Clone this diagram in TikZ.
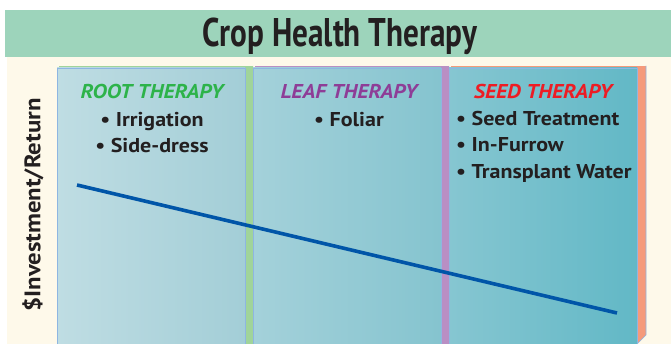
\documentclass[tikz,border=0pt]{standalone}
\usepackage{fontspec}
\setmainfont{PT Sans}
\newfontfamily\titlefont[FakeStretch=0.78]{PT Sans}
\newfontfamily\widefont[FakeStretch=1.1]{PT Sans}
\usetikzlibrary{calc}
\definecolor{cream}{HTML}{FEF9EA}
\definecolor{titlegreen}{HTML}{9DD4BB}
\definecolor{sidegreen}{HTML}{A0D49A}
\definecolor{sidepurple}{HTML}{B98FC4}
\definecolor{sideorange}{HTML}{F59A7B}
\definecolor{edgeblue}{HTML}{8EB6E2}
\definecolor{trendblue}{HTML}{0055A8}
\definecolor{rootgreen}{HTML}{2DB34A}
\definecolor{leafpurple}{HTML}{8E3D97}
\definecolor{seedred}{HTML}{ED1C24}
\definecolor{inkblack}{HTML}{231F20}
\tikzset{
  heading/.style={anchor=base, font=\widefont\fontsize{20}{22}\selectfont\bfseries\itshape, inner sep=0},
  item/.style={anchor=base, font=\widefont\fontsize{20}{22}\selectfont\bfseries, text=inkblack, inner sep=0},
  panelfront/.style={draw=edgeblue, line width=0.6pt},
}
\begin{document}
\begin{tikzpicture}[x=1pt,y=-1pt]
\useasboundingbox (0,0) rectangle (671,344);
% background
\fill[cream] (7,57) rectangle (671,344);
\fill[titlegreen] (5,10) rectangle (671,57);
\node[anchor=base, inner sep=0, font=\titlefont\fontsize{40}{44}\selectfont\bfseries, text=inkblack] (title) at (340,47) {Crop Health Therapy};
% top faces
\fill[sidegreen] (59,66) rectangle (253,68.5);
\fill[sidepurple] (255,66) rectangle (449,68.5);
\fill[sideorange] (451,66) rectangle (646,68.5);
% side faces
\fill[sidegreen] (245,68) -- (253,66) -- (253,344) -- (245,344) -- cycle;
\fill[sidepurple] (441,68) -- (449,66) -- (449,344) -- (441,344) -- cycle;
\fill[sideorange] (637,68) -- (646,66) -- (646,335) -- (637,344) -- cycle;
\draw[edgeblue, line width=0.6pt] (646,66) -- (646,335) -- (637,344);
% fronts
\shade[left color={rgb,255:red,191;green,221;blue,227}, right color={rgb,255:red,163;green,206;blue,215}] (57,68) rectangle (245,344);
\shade[left color={rgb,255:red,164;green,209;blue,218}, right color={rgb,255:red,133;green,196;blue,207}] (253,68) rectangle (441,344);
\shade[left color={rgb,255:red,134;green,198;blue,209}, right color={rgb,255:red,98;green,184;blue,198}] (449,68) rectangle (637,344);
\draw[panelfront] (57,344) -- (57,68) -- (245,68) -- (245,344);
\draw[panelfront] (253,344) -- (253,68) -- (441,68) -- (441,344);
\draw[panelfront] (449,344) -- (449,68) -- (637,68) -- (637,344);
% y label
\node[rotate=90, inner sep=0, font=\widefont\fontsize{22.5}{24}\selectfont\bfseries, text=inkblack] (ylabel) at (33,205) {\$Investment/Return};
% headings
\node[heading, text=rootgreen] (root) at (152,99) {ROOT THERAPY};
\node[item] (irr) at (152,127) {• Irrigation};
\node[item] (side) at (152,153) {• Side-dress};
\node[heading, text=leafpurple] (leaf) at (349,99) {LEAF THERAPY};
\node[item] (fol) at (349,127) {• Foliar};
\node[heading, text=seedred] (seed) at (543,99) {SEED THERAPY};
\node[item, anchor=base west] (st) at (456,126) {• Seed Treatment};
\node[item, anchor=base west] (inf) at (456,152) {• In-Furrow};
\node[item, anchor=base west] (tw) at (456,179) {• Transplant Water};
% trend line
\coordinate (tstart) at (77,185);
\coordinate (tend) at (617,313);
\draw[trendblue, line width=3.6pt] (tstart) -- (tend);
\end{tikzpicture}
\end{document}
